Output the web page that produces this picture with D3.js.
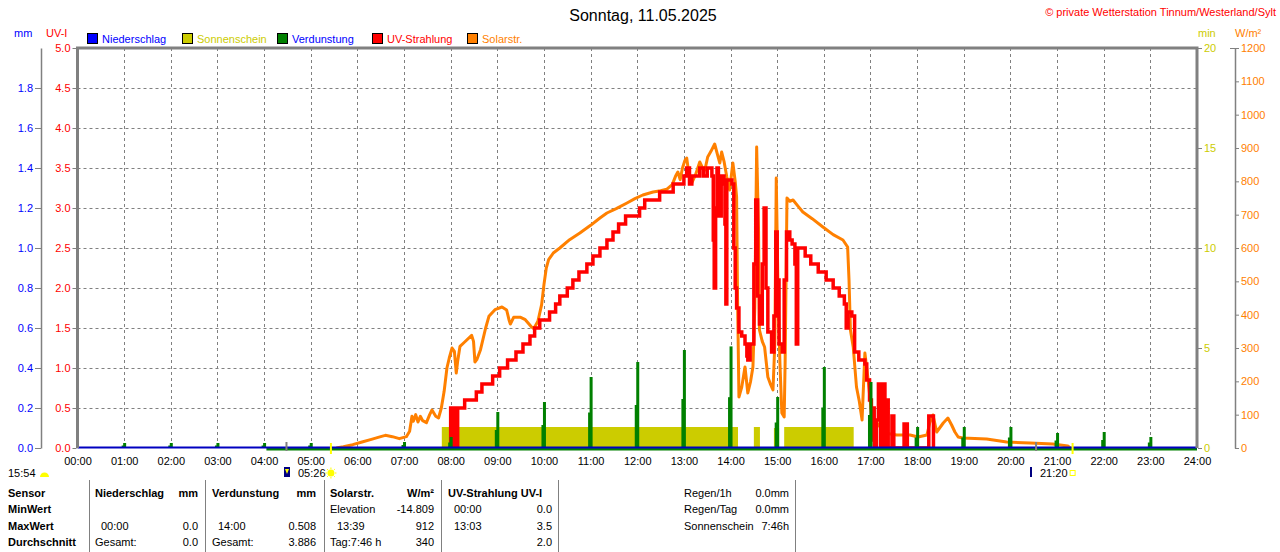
<!DOCTYPE html>
<html><head><meta charset="utf-8">
<script src="https://cdn.jsdelivr.net/npm/d3@7/dist/d3.min.js"></script>
<style>
body{margin:0;background:#fff;}
svg{display:block;font-family:"Liberation Sans",Arial,sans-serif;font-size:11px;}
</style>
</head><body>
<svg id="c" width="1280" height="552"></svg>
<script>
// ---------- DATA ----------
const hourTicks = d3.range(0, 25);
const uvTicks = [0, 0.5, 1, 1.5, 2, 2.5, 3, 3.5, 4, 4.5, 5];
const mmTicks = [0, 0.2, 0.4, 0.6, 0.8, 1.0, 1.2, 1.4, 1.6, 1.8];
const sunTicks = [0, 5, 10, 15, 20];
const solarTicks = [0, 100, 200, 300, 400, 500, 600, 700, 800, 900, 1000, 1100, 1200];

// Solar radiation (W/m²), time in decimal hours
const solarTime = [5.55,5.7,5.9,6.1,6.3,6.5,6.6,6.75,6.9,7.05,7.12,7.17,7.2,7.25,7.3,7.35,7.4,7.48,7.55,7.6,7.68,7.74,7.8,7.86,7.92,7.97,8.03,8.08,8.12,8.15,8.2,8.3,8.45,8.49,8.52,8.56,8.64,8.75,8.82,8.95,9.1,9.2,9.25,9.28,9.35,9.5,9.6,9.72,9.78,9.87,9.95,10.0,10.05,10.1,10.2,10.34,10.55,10.77,11.0,11.2,11.35,11.55,11.78,11.95,12.12,12.34,12.5,12.63,12.75,12.82,12.87,12.92,12.97,13.02,13.06,13.1,13.17,13.25,13.34,13.4,13.45,13.51,13.58,13.66,13.72,13.77,13.81,13.86,13.92,13.98,14.05,14.1,14.13,14.15,14.18,14.24,14.31,14.37,14.43,14.48,14.52,14.56,14.6,14.62,14.68,14.73,14.8,14.86,14.91,14.95,14.98,15.02,15.06,15.1,15.15,15.17,15.21,15.27,15.34,15.45,15.55,15.75,15.98,16.2,16.41,16.51,16.54,16.57,16.63,16.7,16.76,16.82,16.88,16.95,17.03,17.14,17.31,17.56,17.85,18.02,18.21,18.27,18.34,18.42,18.56,18.66,18.74,18.81,18.88,18.98,19.49,19.92,20.42,20.91,21.23,21.28];
const solarValue = [0,4,10,18,26,34,38,34,28,34,50,95,80,100,78,95,82,76,100,114,95,90,120,170,240,270,300,290,225,260,305,318,338,320,258,265,295,360,395,415,423,414,385,372,392,392,385,365,358,380,430,490,540,565,585,600,625,645,668,690,705,718,735,748,759,768,772,776,790,815,828,805,840,862,870,830,795,820,858,840,834,873,890,912,880,855,888,860,813,774,855,800,753,453,153,183,243,165,200,243,420,903,654,354,320,303,213,190,174,315,810,453,250,105,93,255,750,740,744,725,708,688,663,640,624,603,504,354,303,183,140,84,285,204,93,75,45,39,39,33,39,75,99,48,75,90,69,48,33,30,27,18,15,12,6,0];

// UV index, time in decimal hours (step values)
const uvTime = [7.95,8.0,8.03,8.06,8.1,8.12,8.15,8.3,8.55,8.67,8.9,9.05,9.22,9.4,9.55,9.7,9.8,9.91,10.12,10.25,10.34,10.5,10.62,10.75,10.92,11.05,11.2,11.35,11.48,11.6,11.75,12.05,12.16,12.48,12.77,13.0,13.06,13.12,13.17,13.34,13.42,13.5,13.6,13.63,13.65,13.68,13.71,13.74,13.8,13.86,13.88,13.9,13.92,14.03,14.07,14.1,14.13,14.18,14.24,14.31,14.35,14.37,14.42,14.45,14.5,14.54,14.58,14.62,14.68,14.72,14.76,14.8,14.88,14.93,14.97,15.0,15.04,15.11,15.15,15.2,15.27,15.32,15.38,15.41,15.44,15.6,15.72,15.88,16.05,16.2,16.33,16.44,16.48,16.52,16.6,16.66,16.75,16.88,16.92,16.98,17.02,17.04,17.08,17.13,17.17,17.22,17.26,17.31,17.34,17.38,17.46,17.5,17.72,17.79,18.25,18.35];
const uvValue = [0,0.5,0,0.5,0.5,0,0.5,0.6,0.7,0.8,0.9,1.0,1.1,1.2,1.3,1.4,1.5,1.6,1.7,1.8,1.9,2.0,2.1,2.2,2.3,2.4,2.5,2.6,2.7,2.8,2.9,3.0,3.1,3.2,3.3,3.4,3.5,3.3,3.4,3.5,3.4,3.5,3.4,2.6,2.0,3.0,3.5,2.9,3.4,3.3,2.8,1.8,3.35,3.3,2.5,2.0,1.75,1.45,1.4,1.3,1.15,1.1,1.3,1.3,2.3,3.1,1.9,1.55,2.3,3.0,2.0,1.45,1.2,1.65,2.7,2.1,1.3,1.2,2.1,2.7,2.6,2.55,2.3,1.3,2.5,2.4,2.3,2.2,2.1,2.0,1.9,1.8,1.5,1.7,1.65,1.2,1.1,1.05,0.85,0.6,0.1,0.5,0,0.35,0.8,0,0.8,0,0.6,0,0.4,0,0.3,0,0.4,0];

// Sunshine (min) intervals
const sunStart = [7.81, 14.5, 14.93, 15.15];
const sunEnd   = [14.16, 14.63, 15.04, 16.64];
const sunValue = [1.05, 1.05, 1.0, 1.05];

// Evaporation (mm) per hour
const evapHour  = [1,2,3,4,5,7,8,9,10,11,12,13,14,15,16,17,18,19,20,21,22,23];
const evapValue = [0.025,0.025,0.025,0.025,0.025,0.03,0.055,0.18,0.23,0.355,0.43,0.49,0.508,0.255,0.405,0.33,0.105,0.105,0.105,0.075,0.08,0.055];
const evapBaseStart = 4.05;

// Legend
const legendLabels = ["Niederschlag", "Sonnenschein", "Verdunstung", "UV-Strahlung", "Solarstr."];
const legendBox    = ["#0000ff", "#cccc00", "#008000", "#ff0000", "#ff8000"];
const legendText   = ["#0000ff", "#cccc00", "#0000ff", "#ff0000", "#ff8000"];

// Sun events
const twilightTimes = [4.48, 20.55];
const sunEventTimes = [5.433, 21.333];

// Table
const tableCols = [
  {x0: 8, x1: null, rows: [["Sensor", true], ["MinWert", true], ["MaxWert", true], ["Durchschnitt", true]]},
];
const tableCells = [
  // [x, anchor, row, text, bold]
  [8,"start",0,"Sensor",true],[8,"start",1,"MinWert",true],[8,"start",2,"MaxWert",true],[8,"start",3,"Durchschnitt",true],
  [95,"start",0,"Niederschlag",true],[198,"end",0,"mm",true],
  [101,"start",2,"00:00",false],[198,"end",2,"0.0",false],
  [95,"start",3,"Gesamt:",false],[198,"end",3,"0.0",false],
  [212,"start",0,"Verdunstung",true],[316,"end",0,"mm",true],
  [218,"start",2,"14:00",false],[316,"end",2,"0.508",false],
  [212,"start",3,"Gesamt:",false],[316,"end",3,"3.886",false],
  [330,"start",0,"Solarstr.",true],[434,"end",0,"W/m²",true],
  [330,"start",1,"Elevation",false],[434,"end",1,"-14.809",false],
  [337,"start",2,"13:39",false],[434,"end",2,"912",false],
  [330,"start",3,"Tag:7:46 h",false],[434,"end",3,"340",false],
  [448,"start",0,"UV-Strahlung UV-I",true],
  [454,"start",1,"00:00",false],[552,"end",1,"0.0",false],
  [454,"start",2,"13:03",false],[552,"end",2,"3.5",false],
  [552,"end",3,"2.0",false],
  [684,"start",0,"Regen/1h",false],[789,"end",0,"0.0mm",false],
  [684,"start",1,"Regen/Tag",false],[789,"end",1,"0.0mm",false],
  [684,"start",2,"Sonnenschein",false],[789,"end",2,"7:46h",false]
];
const tableRowY = [493, 509, 526, 542];
const tableLines = [89, 205, 324, 441, 558, 795];

// ---------- DRAW ----------
const svg = d3.select("#c");
const L = 77.5, R = 1197, T = 48, B = 448;
const x = d3.scaleLinear().domain([0, 24]).range([L, R]);
const yUV = d3.scaleLinear().domain([0, 5]).range([B, T]);
const yMM = d3.scaleLinear().domain([0, 2]).range([B, T]);
const ySun = d3.scaleLinear().domain([0, 20]).range([B, T]);
const ySol = d3.scaleLinear().domain([0, 1200]).range([B, T]);
const GRAY = "#808080";

// title & header texts
svg.append("text").attr("x", 643).attr("y", 21).attr("text-anchor", "middle")
  .style("font-size", "16px").attr("fill", "#000").text("Sonntag, 11.05.2025");
svg.append("text").attr("x", 1276).attr("y", 16).attr("text-anchor", "end")
  .attr("fill", "#ff0000").style("font-size", "11px").text("© private Wetterstation Tinnum/Westerland/Sylt");
svg.append("text").attr("x", 14).attr("y", 37).attr("fill", "#0000ff").text("mm");
svg.append("text").attr("x", 46).attr("y", 37).attr("fill", "#ff0000").text("UV-I");
svg.append("text").attr("x", 1198).attr("y", 37).attr("fill", "#cccc00").text("min");
svg.append("text").attr("x", 1235).attr("y", 37).attr("fill", "#ff8000").text("W/m²");

// legend
const lg = svg.append("g");
legendLabels.forEach((lab, i) => {
  const lx = 88 + i * 95;
  lg.append("rect").attr("x", lx - 0.5).attr("y", 33.5).attr("width", 10).attr("height", 10)
    .attr("fill", legendBox[i]).attr("stroke", "#000").attr("stroke-width", 1);
  lg.append("text").attr("x", lx + 14).attr("y", 42.5).attr("fill", legendText[i]).text(lab);
});

// grid
const grid = svg.append("g").attr("stroke", GRAY).attr("stroke-width", 1).attr("stroke-dasharray", "3,3");
grid.selectAll(".gv").data(hourTicks.slice(1, 24)).join("line")
  .attr("x1", d => Math.round(x(d)) + 0.5).attr("x2", d => Math.round(x(d)) + 0.5)
  .attr("y1", T).attr("y2", B);
grid.selectAll(".gh").data(uvTicks.slice(1, 10)).join("line")
  .attr("x1", L).attr("x2", R).attr("y1", d => Math.round(yUV(d)) + 0.5).attr("y2", d => Math.round(yUV(d)) + 0.5);

// sunshine blocks
svg.append("g").selectAll("rect").data(sunStart).join("rect")
  .attr("x", (d) => x(d)).attr("width", (d, i) => x(sunEnd[i]) - x(d))
  .attr("y", (d, i) => ySun(sunValue[i])).attr("height", (d, i) => B - ySun(sunValue[i]))
  .attr("fill", "#cccc00");

// solar line
const solarData = solarTime.map((t, i) => [t, solarValue[i]]);
svg.append("path").datum(solarData)
  .attr("d", d3.line().x(d => x(d[0])).y(d => ySol(d[1])))
  .attr("fill", "none").attr("stroke", "#ff8000").attr("stroke-width", 3).attr("stroke-linejoin", "round");

// UV line
const uvData = uvTime.map((t, i) => [t, uvValue[i]]);
svg.append("path").datum(uvData)
  .attr("d", d3.line().curve(d3.curveStepAfter).x(d => x(d[0])).y(d => yUV(d[1])))
  .attr("fill", "none").attr("stroke", "#ff0000").attr("stroke-width", 3.5);

// evaporation bars
const eg = svg.append("g").attr("fill", "#008000");
eg.selectAll(".eh").data(evapHour).join("rect")
  .attr("x", d => x(d) - 2.5).attr("width", 3)
  .attr("y", (d, i) => yMM(evapValue[i] / 2)).attr("height", (d, i) => B - yMM(evapValue[i] / 2));
eg.selectAll(".ef").data(evapHour).join("rect")
  .attr("x", d => x(d) - 1).attr("width", 3)
  .attr("y", (d, i) => yMM(evapValue[i])).attr("height", (d, i) => B - yMM(evapValue[i]));

// baseline green (evap) & blue (rain)
svg.append("rect").attr("x", x(evapBaseStart)).attr("width", R - x(evapBaseStart))
  .attr("y", B - 0.5).attr("height", 3).attr("fill", "#008000");
svg.append("rect").attr("x", L).attr("width", R - L).attr("y", B - 1.5).attr("height", 2).attr("fill", "#0000c0");

// frame
svg.append("path").attr("d", `M${L},${B} V${T} H${R} V${B}`)
  .attr("fill", "none").attr("stroke", GRAY).attr("stroke-width", 3);

// UV axis (left, red)
const axUV = svg.append("g").attr("transform", `translate(${L - 1},0)`)
  .call(d3.axisLeft(yUV).tickValues(uvTicks).tickFormat(d3.format(".1f")).tickSize(4).tickPadding(2));
axUV.select(".domain").remove();
axUV.selectAll("line").attr("stroke", GRAY);
axUV.selectAll("text").attr("fill", "#ff0000").style("font-size", "11px").style("font-family", "Liberation Sans, Arial, sans-serif");

// mm axis (left, blue)
const axMM = svg.append("g").attr("transform", `translate(41,0)`)
  .call(d3.axisLeft(yMM).tickValues(mmTicks).tickFormat(d3.format(".1f")).tickSize(6).tickSizeOuter(0).tickPadding(2));
axMM.select(".domain").attr("stroke", GRAY).attr("stroke-width", 1.5);
axMM.selectAll("line").attr("stroke", GRAY);
axMM.selectAll("text").attr("fill", "#0000ff").style("font-size", "11px").style("font-family", "Liberation Sans, Arial, sans-serif");

// sunshine axis (right, yellow)
const axSun = svg.append("g").attr("transform", `translate(${R + 1},0)`)
  .call(d3.axisRight(ySun).tickValues(sunTicks).tickFormat(d3.format("d")).tickSize(4).tickPadding(2));
axSun.select(".domain").remove();
axSun.selectAll("line").attr("stroke", GRAY);
axSun.selectAll("text").attr("fill", "#cccc00").style("font-size", "11px").style("font-family", "Liberation Sans, Arial, sans-serif");

// solar axis (right, orange)
const axSol = svg.append("g").attr("transform", `translate(1235,0)`)
  .call(d3.axisRight(ySol).tickValues(solarTicks).tickFormat(d3.format("d")).tickSize(4).tickSizeOuter(0).tickPadding(2));
axSol.select(".domain").attr("stroke", GRAY).attr("stroke-width", 1.5);
axSol.selectAll("line").attr("stroke", GRAY);
axSol.selectAll("text").attr("fill", "#ff8000").style("font-size", "11px").style("font-family", "Liberation Sans, Arial, sans-serif");
svg.append("line").attr("x1", 1230).attr("x2", 1235).attr("y1", T + 0.5).attr("y2", T + 0.5).attr("stroke", GRAY);

// x axis
const axX = svg.append("g").attr("transform", `translate(0,${B})`)
  .call(d3.axisBottom(x).tickValues(hourTicks).tickSize(0).tickPadding(9)
    .tickFormat(d => String(d).padStart(2, "0") + ":00"));
axX.select(".domain").remove();
axX.selectAll("text").attr("fill", "#000").style("font-size", "11px").style("font-family", "Liberation Sans, Arial, sans-serif");

// sun event ticks
svg.selectAll(".tw").data(twilightTimes).join("rect")
  .attr("x", d => x(d) - 1).attr("width", 2).attr("y", B - 6).attr("height", 9).attr("fill", GRAY);
svg.selectAll(".se").data(sunEventTimes).join("rect")
  .attr("x", d => x(d) - 1).attr("width", 2).attr("y", B - 5).attr("height", 11).attr("fill", "#ffff00");

// event labels
svg.append("text").attr("x", 8).attr("y", 477).attr("fill", "#000").text("15:54");
svg.append("path").attr("d", "M40,477 A4.5,4.5 0 0 1 49,477 Z").attr("fill", "#ffff00");
svg.append("rect").attr("x", 284).attr("y", 467).attr("width", 6).attr("height", 10).attr("fill", "#000080");
svg.append("path").attr("d", "M285,469 L289,469 L287,474 Z").attr("fill", "#ffff00");
svg.append("text").attr("x", 298).attr("y", 477).attr("fill", "#000").text("05:26");
svg.append("circle").attr("cx", x(sunEventTimes[0])).attr("cy", 473).attr("r", 3.5).attr("fill", "#ffff00");
svg.append("g").selectAll("line").data(d3.range(8)).join("line")
  .attr("x1", d => x(sunEventTimes[0]) + Math.cos(d * Math.PI / 4) * 4)
  .attr("y1", d => 473 + Math.sin(d * Math.PI / 4) * 4)
  .attr("x2", d => x(sunEventTimes[0]) + Math.cos(d * Math.PI / 4) * 5.5)
  .attr("y2", d => 473 + Math.sin(d * Math.PI / 4) * 5.5)
  .attr("stroke", "#ffff00").attr("stroke-width", 1);
svg.append("rect").attr("x", 1030).attr("y", 467).attr("width", 2).attr("height", 10).attr("fill", "#000080");
svg.append("text").attr("x", 1040).attr("y", 477).attr("fill", "#000").text("21:20");
svg.append("rect").attr("x", x(sunEventTimes[1]) - 2.5).attr("y", 470.5).attr("width", 5).attr("height", 5)
  .attr("fill", "none").attr("stroke", "#ffff00").attr("stroke-width", 1);

// table
svg.append("g").selectAll("line").data(tableLines).join("line")
  .attr("x1", d => d + 0.5).attr("x2", d => d + 0.5).attr("y1", 480).attr("y2", 552)
  .attr("stroke", GRAY).attr("stroke-width", 1);
svg.append("g").selectAll("text").data(tableCells).join("text")
  .attr("x", d => d[0]).attr("y", d => tableRowY[d[2]] + 4)
  .attr("text-anchor", d => d[1])
  .style("font-weight", d => d[4] ? "bold" : "normal")
  .attr("fill", "#000").text(d => d[3]);
</script>
</body></html>
